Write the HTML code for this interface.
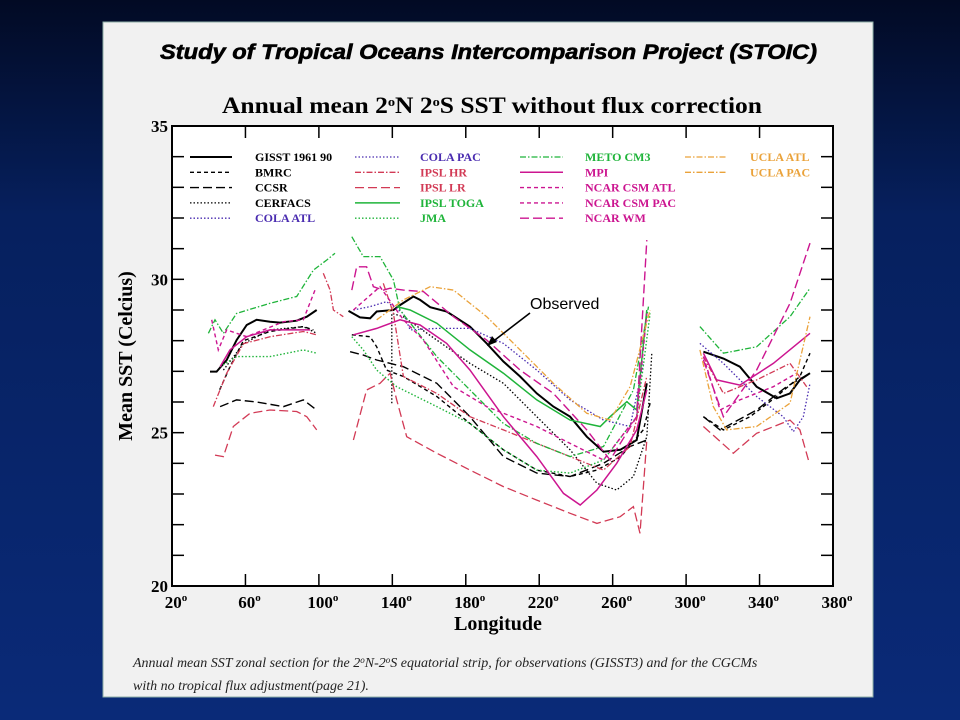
<!DOCTYPE html>
<html><head><meta charset="utf-8">
<style>
html,body{margin:0;padding:0;width:960px;height:720px;overflow:hidden;background:linear-gradient(180deg,#020a24 0%,#06205e 30%,#0a2a78 100%);}
svg{display:block}
</style></head><body>
<svg id="chart" width="960" height="720">
<rect x="103" y="22" width="770" height="675" fill="#f1f1f1" stroke="#8fb0a8" stroke-width="1"/>
<text x="160" y="59" textLength="657" lengthAdjust="spacingAndGlyphs" font-family="Liberation Sans, sans-serif" font-weight="bold" font-style="italic" font-size="21" stroke="#000" stroke-width="0.6">Study of Tropical Oceans Intercomparison Project (STOIC)</text>
<text x="222" y="113" textLength="540" lengthAdjust="spacingAndGlyphs" font-family="Liberation Serif, serif" font-weight="bold" font-size="23">Annual mean 2<tspan dy="-7" font-size="13">o</tspan><tspan dy="7">N 2</tspan><tspan dy="-7" font-size="13">o</tspan><tspan dy="7">S SST without flux correction</tspan></text>
<rect x="172" y="126" width="661" height="460" fill="#fff"/>
<g id="ticks"></g>
<g id="series"></g>
<rect x="172" y="126" width="661" height="460" fill="none" stroke="#000" stroke-width="2"/>
<g id="labels" font-family="Liberation Serif, serif" font-weight="bold" font-size="17"></g>
<text x="498" y="630" text-anchor="middle" font-family="Liberation Serif, serif" font-weight="bold" font-size="20">Longitude</text>
<text transform="translate(132,356) rotate(-90)" text-anchor="middle" font-family="Liberation Serif, serif" font-weight="bold" font-size="20">Mean SST (Celcius)</text>
<g id="legend" font-family="Liberation Serif, serif" font-weight="bold" font-size="12"></g>
<text x="530" y="309" font-family="Liberation Sans, sans-serif" font-size="16">Observed</text>
<line x1="530" y1="313" x2="491" y2="343" stroke="#000" stroke-width="1.6"/>
<polygon points="487,346 492,336 497,342" fill="#000"/>
<text x="133" y="667" font-family="Liberation Serif, serif" font-style="italic" font-size="14" fill="#222">Annual mean SST zonal section for the 2<tspan dy="-4" font-size="9">o</tspan><tspan dy="4">N-2</tspan><tspan dy="-4" font-size="9">o</tspan><tspan dy="4">S equatorial strip, for observations (GISST3) and for the CGCMs</tspan></text>
<text x="133" y="690" font-family="Liberation Serif, serif" font-style="italic" font-size="14" fill="#222">with no tropical flux adjustment(page 21).</text>
</svg>
<script>
const xTicks=[20,60,100,140,180,220,260,300,340,380];
const yTicks=[20,25,30,35];
const seriesNames=["GISST 1961 90","BMRC","CCSR","CERFACS","COLA ATL","COLA PAC","IPSL HR","IPSL LR","IPSL TOGA","JMA","METO CM3","MPI","NCAR CSM ATL","NCAR CSM PAC","NCAR WM","UCLA ATL","UCLA PAC"];
const gisst=[[40.7,26.99],[44.3,26.99],[49.8,27.37],[55.2,28.02],[60.7,28.51],[66.1,28.68],[73.4,28.62],[78.8,28.59],[87.9,28.65],[93.4,28.78],[98.8,29.0],null,[116.1,28.97],[122.4,28.76],[127.9,28.73],[131.5,28.95],[140.6,29.0],[144.2,29.16],[151.5,29.44],[155.1,29.33],[160.6,29.09],[169.6,28.95],[182.3,28.46],[191.4,27.91],[200.5,27.32],[209.6,26.83],[218.7,26.28],[227.7,25.85],[236.8,25.52],[245.9,24.87],[255,24.38],[264.1,24.44],[273.1,24.76],[278.6,26.61],null,[309.4,27.64],[320.3,27.42],[329.3,27.15],[338.4,26.5],[349.3,26.12],[356.6,26.28],[362,26.72],[367.5,26.94]];
const bmrc=[[46,26.4],[51.6,27.15],[58.9,28.0],[73.4,28.3],[91.5,28.46],[97,28.35],null,[117.9,28.19],[127.9,28.13],[131.5,27.8],[136.9,27.04],[146,26.83],[164.2,26.18],[182.3,25.3],[200.5,24.44],[218.7,23.78],[236.8,23.57],[251.4,23.78],[264.1,24.2],[276.8,25.1],[280.4,25.96],null,[309.4,25.52],[320.3,25.09],[334.8,25.52],[349.3,26.18],[362,26.83],[367.5,27.59]];
const ccsr=[[46.2,25.85],[55.2,26.07],[66.1,26.0],[80.7,25.85],[91.5,26.07],[98.8,25.74],null,[117,27.64],[124.2,27.53],[131.5,27.37],[146,27.15],[164.2,26.61],[182.3,25.52],[200.5,24.22],[218.7,23.68],[236.8,23.57],[255,24.0],[269.5,24.55],[278.6,24.76],null,[309.4,25.52],[318.5,25.09],[338.4,25.74],[354.6,26.5],[367.5,26.94]];
const cerfacs=[[48,27.04],[58.9,27.9],[73.4,28.35],[91.5,28.46],[98.8,28.24],null,[139.7,25.96],[139.7,28.89],[146,28.78],[164.2,28.02],[182.3,27.26],[200.5,26.61],[218.7,25.52],[236.8,24.44],[251.4,23.35],[262.2,23.13],[271.3,23.57],[278.6,24.87],[281.3,27.59]];
const colaAtl=[[307.5,27.91],[320.3,27.26],[338.4,26.18],[352.9,25.52],[358.4,25.03],[363.8,25.52],[367.5,26.61]];
const colaPac=[[118.8,29.0],[127.9,29.11],[136.9,29.27],[146,28.89],[149.7,28.35],[164.2,28.4],[182.3,28.4],[200.5,27.91],[218.7,27.04],[236.8,26.07],[255,25.41],[269.5,25.2],[276.8,27.26]];
const ipslHr=[[42.5,25.85],[49.8,26.94],[58.9,27.9],[73.4,28.13],[91.5,28.3],[98.8,28.19],null,[102.4,30.2],[106.1,29.65],[107.9,29.0],[113.3,28.78],null,[135.1,29.87],[140.6,28.89],[146,26.83],[164.2,26.28],[182.3,25.52],[200.5,25.09],[218.7,24.65],[236.8,24.22],[255,23.78],[269.5,24.55],[278.6,26.83],null,[309.4,27.48],[320.3,26.28],[338.4,26.72],[356.6,27.26],[365.7,26.5]];
const ipslLr=[[43.4,24.27],[48,24.22],[53.4,25.2],[62.5,25.63],[73.4,25.74],[87.9,25.69],[93.4,25.52],[98.8,25.09],null,[118.8,24.76],[126,26.39],[133.3,26.61],[138.8,26.94],[142.4,26.07],[147.8,24.87],[164.2,24.33],[182.3,23.78],[200.5,23.24],[218.7,22.8],[236.8,22.37],[251.4,22.04],[264.1,22.26],[271.3,22.59],[274.9,21.72],[278.6,24.76],null,[309.4,25.2],[325.7,24.33],[338.4,24.98],[356.6,25.41],[362,25.09],[366.6,24.11]];
const ipslToga=[[142.4,29.11],[149.7,29.0],[164.2,28.57],[182.3,27.7],[200.5,26.94],[218.7,26.07],[236.8,25.41],[253.2,25.2],[258.6,25.52],[267.7,26.01],[273.1,25.74],[278.6,29.0]];
const jma=[[46.2,27.15],[55.2,27.48],[73.4,27.48],[91.5,27.7],[98.8,27.59],null,[117.9,28.13],[124.2,27.7],[131.5,27.04],[142.4,26.5],[164.2,25.85],[182.3,25.3],[200.5,24.44],[218.7,23.78],[236.8,23.68],[255,24.11],[273.1,25.52],[280.4,28.89]];
const meto=[[39.8,28.24],[43.4,28.68],[48,28.24],[55.2,28.89],[73.4,29.22],[87.9,29.44],[97,30.3],[104.3,30.63],[108.8,30.85],null,[117.9,31.39],[124.2,30.74],[133.3,30.74],[140.6,29.98],[144.2,29.0],[164.2,27.48],[182.3,26.39],[200.5,25.3],[218.7,24.65],[236.8,24.22],[255,24.55],[271.3,26.39],[279.5,29.11],null,[307.5,28.46],[320.3,27.59],[338.4,27.8],[356.6,28.78],[367.5,29.71]];
const mpi=[[46.2,27.15],[51.6,27.7],[60.7,28.13],[73.4,28.35],[95.2,28.35],null,[118.8,28.19],[131.5,28.4],[144.2,28.68],[155.1,28.51],[169.6,27.91],[182.3,27.04],[200.5,25.52],[218.7,24.22],[233.2,23.02],[242.3,22.64],[251.4,23.13],[262.2,24.0],[273.1,25.09],[278.6,26.39],null,[309.4,27.59],[316.6,26.72],[329.3,26.55],[347.5,27.26],[367.5,28.24]];
const ncarAtl=[[309.4,27.48],[318.5,25.74],[329.3,26.07],[347.5,26.5],[360.2,26.94]];
const ncarPac=[[41.6,28.68],[45.2,27.7],[49.8,28.35],[60.7,28.13],[80.7,28.62],[91.5,28.68],[97.9,29.65],null,[118.8,29.0],[133.3,29.76],[146,28.68],[156.9,28.02],[173.3,26.5],[191.4,25.85],[218.7,25.2],[236.8,24.65],[255,24.11],[273.1,25.52],[278.6,28.89]];
const ncarWm=[[117.9,29.65],[120.6,30.41],[126,30.41],[129.7,29.76],[135.1,29.65],[138.8,29.71],[146,29.65],[156.9,29.6],[173.3,28.78],[191.4,28.02],[209.6,27.04],[227.7,26.28],[245.9,25.09],[258.6,24.11],[273.1,25.52],[278.6,31.28],null,[309.4,27.37],[320.3,25.52],[338.4,27.04],[356.6,29.22],[367.5,31.18]];
const uclaAtl=[[307.5,27.7],[314.8,25.85],[322.1,25.09],[338.4,25.2],[356.6,25.96],[367.5,28.78]];
const uclaPac=[[131.5,28.68],[146,29.33],[160.6,29.76],[173.3,29.65],[191.4,28.78],[209.6,27.7],[227.7,26.61],[245.9,25.63],[258.6,25.41],[269.5,26.5],[280.4,29.0]];

const L=172,R=833,T=126,B=586,X0=20,X1=380,Y0=20,Y1=35;
function xs(v){return L+(v-X0)/(X1-X0)*(R-L);}
function ys(v){return B-(v-Y0)/(Y1-Y0)*(B-T);}
const NS='http://www.w3.org/2000/svg';
function mk(tag,parent){const e=document.createElementNS(NS,tag);parent.appendChild(e);return e;}

const styles={solid:"",sdash:"4,3",ldash:"9,4",dot:"1.5,2",dashdot:"6,2,1.5,2"};
const cBlack="#000",cBlue="#4a2cb0",cRed="#d23a55",cGreen="#1fb43a",cMag="#cc1590",cOr="#eaa23a";
const seriesList=[
 [gisst,cBlack,"solid",2,"gisst"],[bmrc,cBlack,"sdash",1.4,"bmrc"],[ccsr,cBlack,"ldash",1.4,"ccsr"],[cerfacs,cBlack,"dot",1.3,"cerfacs"],[colaAtl,cBlue,"dot",1.3,"cola-atl"],
 [colaPac,cBlue,"dot",1.3,"cola-pac"],[ipslHr,cRed,"dashdot",1.3,"ipsl-hr"],[ipslLr,cRed,"ldash",1.3,"ipsl-lr"],[ipslToga,cGreen,"solid",1.5,"ipsl-toga"],[jma,cGreen,"dot",1.4,"jma"],
 [meto,cGreen,"dashdot",1.3,"meto-cm3"],[mpi,cMag,"solid",1.5,"mpi"],[ncarAtl,cMag,"sdash",1.4,"ncar-csm-atl"],[ncarPac,cMag,"sdash",1.4,"ncar-csm-pac"],[ncarWm,cMag,"ldash",1.4,"ncar-wm"],
 [uclaAtl,cOr,"dashdot",1.3,"ucla-atl"],[uclaPac,cOr,"dashdot",1.3,"ucla-pac"]];

const tk=document.getElementById('ticks');
for(let v=Y0;v<=Y1;v++){
 const l=mk('line',tk);l.setAttribute('x1',L);l.setAttribute('x2',L+12);l.setAttribute('y1',ys(v));l.setAttribute('y2',ys(v));l.setAttribute('stroke','#000');l.setAttribute('stroke-width','1.5');
 
 
 const r=mk('line',tk);r.setAttribute('x1',R-12);r.setAttribute('x2',R);r.setAttribute('y1',ys(v));r.setAttribute('y2',ys(v));r.setAttribute('stroke','#000');r.setAttribute('stroke-width','1.5');
 
 
}
const lb=document.getElementById('labels');
xTicks.forEach(v=>{
 [[T,T+12],[B-12,B]].forEach(p=>{const l=mk('line',tk);l.setAttribute('x1',xs(v));l.setAttribute('x2',xs(v));l.setAttribute('y1',p[0]);l.setAttribute('y2',p[1]);l.setAttribute('stroke','#000');l.setAttribute('stroke-width','1.5');
 
 });
 const t=mk('text',lb);t.setAttribute('x',xs(v)+4);t.setAttribute('y',608);t.setAttribute('text-anchor','middle');
 t.innerHTML=v+'<tspan dy="-7" font-size="11">o</tspan>';
 
 
});
yTicks.forEach(v=>{
 const t=mk('text',lb);t.setAttribute('x',L-4);t.setAttribute('y',ys(v)+6);t.setAttribute('text-anchor','end');t.textContent=v;
 
 
});

const sg=document.getElementById('series');
seriesList.forEach(s=>{
 let d='',pen=false;
 s[0].forEach(p=>{if(p===null){pen=false;return;}d+=(pen?'L':'M')+xs(p[0]).toFixed(1)+' '+ys(p[1]).toFixed(1)+' ';pen=true;});
 const path=mk('path',sg);path.setAttribute('d',d);path.setAttribute('fill','none');path.setAttribute('stroke',s[1]);path.setAttribute('stroke-width',s[3]);
 if(styles[s[2]])path.setAttribute('stroke-dasharray',styles[s[2]]);
 
 
});

const lg=document.getElementById('legend');
const colX=[[190,232,255],[355,400,420],[520,563,585],[685,727,750]];
seriesList.forEach((s,i)=>{
 const col=Math.floor(i/5),row=i%5;const c=colX[col];const y=157+row*15.3;
 const l=mk('line',lg);l.setAttribute('x1',c[0]);l.setAttribute('x2',c[1]);l.setAttribute('y1',y);l.setAttribute('y2',y);l.setAttribute('stroke',s[1]);l.setAttribute('stroke-width',s[3]);
 if(styles[s[2]])l.setAttribute('stroke-dasharray',styles[s[2]]);
 
 
 const t=mk('text',lg);t.setAttribute('x',c[2]);t.setAttribute('y',y+4);t.setAttribute('fill',s[1]);t.textContent=seriesNames[i];
 
 
});
</script>
</body></html>
